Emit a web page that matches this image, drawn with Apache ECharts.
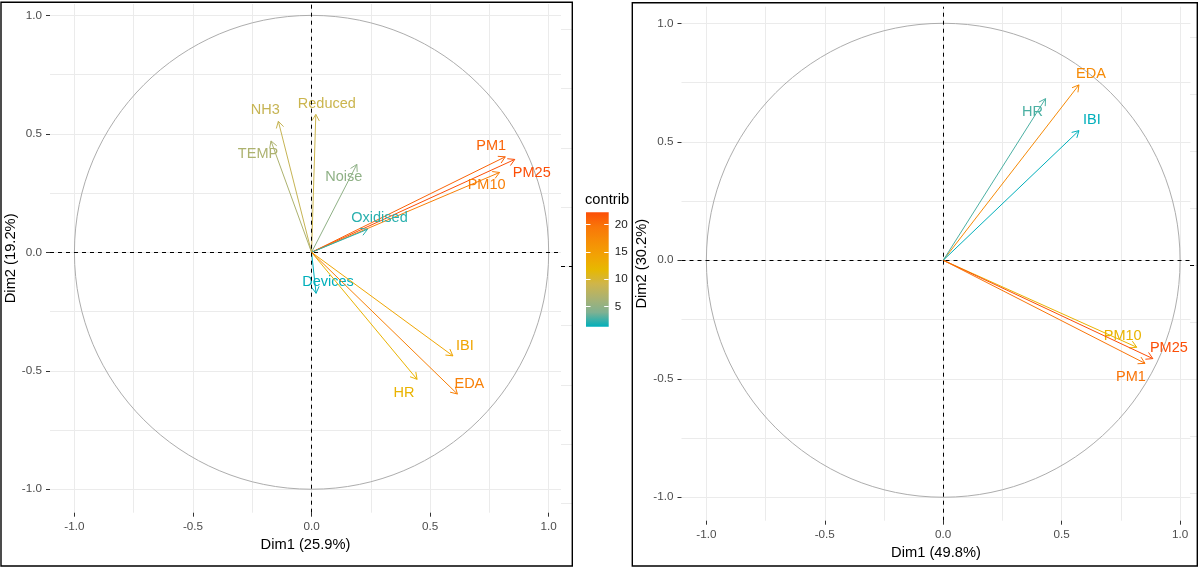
<!DOCTYPE html>
<html>
<head>
<meta charset="utf-8">
<title>PCA variables</title>
<script src="https://cdn.jsdelivr.net/npm/echarts@6.0.0/dist/echarts.min.js"></script>
<style>
  html, body { margin: 0; padding: 0; background: #fff; }
  #chart { width: 1200px; height: 569px; }
</style>
</head>
<body>
<div id="chart"></div>
<script>
// left PCA: 12 variables
var leftVars    = ['PM1', 'PM25', 'PM10', 'Oxidised', 'Noise', 'Reduced', 'NH3', 'TEMP', 'Devices', 'IBI', 'HR', 'EDA'];
var leftDim1    = [0.817, 0.857, 0.793, 0.236, 0.191, 0.018, -0.140, -0.171, 0.019, 0.596, 0.445, 0.615];
var leftDim2    = [0.403, 0.392, 0.337, 0.097, 0.371, 0.582, 0.553, 0.470, -0.173, -0.437, -0.536, -0.598];
var leftContrib = [20.8, 22.2, 18.6, 2.2, 4.9, 8.9, 8.5, 6.7, 1.35, 13.9, 12.4, 18.5];

// right PCA: 6 variables
var rightVars    = ['EDA', 'HR', 'IBI', 'PM10', 'PM25', 'PM1'];
var rightDim1    = [0.573, 0.432, 0.573, 0.817, 0.885, 0.852];
var rightDim2    = [0.740, 0.682, 0.547, -0.367, -0.415, -0.435];
var rightContrib = [18.3, 13.6, 13.1, 16.7, 19.9, 19.1];

var majorTicks  = [-1, -0.5, 0, 0.5, 1];
var gridTicks   = [-1, -0.75, -0.5, -0.25, 0, 0.25, 0.5, 0.75, 1];
var legendTicks = [5, 10, 15, 20];
var circleRadius = 1;

// teal -> yellow -> orange-red (as interpolated by ggplot)
var palette = ['#00AFBB', '#7FB192', '#ABB271', '#CFB54A', '#E7B800', '#F2A204', '#F68D06', '#F97608', '#FC4E07'];

// label nudges in px (repelled labels)
var leftLabelShift  = [[-14, -11], [17, 14], [-13, 13], [12, -11], [-13, 13], [11, -10], [-13, -11], [-13, 13], [12, -11], [12, -10], [-13, 14], [12, -10]];
var rightLabelShift = [[12, -11], [-13, 13], [13, -11], [-14, -11], [16, -11], [-14, 14]];

var font = 'Liberation Sans, Arial, sans-serif';

function rows(d1, d2, c) {
  return d1.map(function (v, i) { return [v, d2[i], c[i]]; });
}

function arrowRender(names, shifts) {
  return function (params, api) {
    var o = api.coord([0, 0]);
    var p = api.coord([api.value(0), api.value(1)]);
    var col = api.visual('color');
    var ang = Math.atan2(p[1] - o[1], p[0] - o[0]);
    var L = 7.5, a = Math.PI / 6;
    var h1 = [p[0] - L * Math.cos(ang - a), p[1] - L * Math.sin(ang - a)];
    var h2 = [p[0] - L * Math.cos(ang + a), p[1] - L * Math.sin(ang + a)];
    var s = shifts[params.dataIndex];
    return {
      type: 'group',
      children: [
        { type: 'line', shape: { x1: o[0], y1: o[1], x2: p[0], y2: p[1] }, style: { stroke: col, lineWidth: 1 } },
        { type: 'polyline', shape: { points: [h1, p, h2] }, style: { stroke: col, lineWidth: 1, fill: null } },
        { type: 'text', x: p[0] + s[0], y: p[1] + s[1],
          style: { text: names[params.dataIndex], fill: col, fontSize: 14.5, fontFamily: font, align: 'center', verticalAlign: 'middle' } }
      ]
    };
  };
}

function circleRender(params, api) {
  var c = api.coord([0, 0]);
  var r = api.size([api.value(2), api.value(2)]);
  return { type: 'ellipse', shape: { cx: c[0], cy: c[1], rx: r[0], ry: r[1] },
           style: { fill: null, stroke: '#ADADAD', lineWidth: 1 } };
}

var zeroLines = {
  silent: true, symbol: 'none', animation: false, label: { show: false },
  lineStyle: { color: '#000', type: [4, 4], width: 1 },
  data: [{ xAxis: 0 }, { yAxis: 0 }]
};

function gridAxis(gi, lim) {
  return {
    type: 'value', gridIndex: gi, min: lim[0], max: lim[1],
    axisLine: { show: false, onZero: false },
    axisTick: { show: false, customValues: gridTicks },
    axisLabel: { show: false },
    splitLine: { show: true, lineStyle: { color: '#EBEBEB', width: 1 } }
  };
}

function scaleAxis(gi, lim, pos, name, gap) {
  return {
    type: 'value', gridIndex: gi, min: lim[0], max: lim[1], position: pos,
    axisLine: { show: false, onZero: false },
    axisTick: { show: true, customValues: majorTicks, length: 4, lineStyle: { color: '#333333', width: 1 } },
    axisLabel: { customValues: majorTicks, margin: 8, color: '#4D4D4D', fontSize: 11.7, fontFamily: font,
                 formatter: function (v) { return v.toFixed(1); } },
    splitLine: { show: false },
    name: name, nameLocation: 'middle', nameGap: gap,
    nameTextStyle: { color: '#000', fontSize: 14.7, fontFamily: font }
  };
}

function stripAxis(gi) {
  return {
    type: 'value', gridIndex: gi, min: -1, max: 1, interval: 0.25,
    axisLine: { show: false, onZero: false }, axisTick: { show: false }, axisLabel: { show: false },
    splitLine: { show: true, lineStyle: { color: '#EBEBEB', width: 1 } }
  };
}

var lxLim = [-1.103, 1.052], lyLim = [-1.099, 1.048];
var rxLim = [-1.105, 1.044], ryLim = [-1.099, 1.07];
var cMin = Math.min.apply(null, leftContrib), cMax = Math.max.apply(null, leftContrib);

var legendFill = new echarts.graphic.LinearGradient(0, 1, 0, 0, palette.map(function (c, i) {
  return { offset: i / (palette.length - 1), color: c };
}));

var hidden = function (gi) {
  return { type: 'value', gridIndex: gi, min: 0, max: 1, show: false, axisLine: { onZero: false }, splitLine: { show: false } };
};

var option = {
  animation: false,
  backgroundColor: '#fff',
  title: { text: 'contrib', left: 585, top: 192, padding: 0,
           textStyle: { fontSize: 14.7, fontWeight: 'normal', color: '#000', fontFamily: font } },
  grid: [
    { left: 50, top: 4, width: 511, height: 508.7 },
    { left: 681.5, top: 6.7, width: 509, height: 514 },
    { left: 586, top: 212.3, width: 22.7, height: 114.4 },
    { left: 561, top: 29.3, width: 11, height: 474 },
    { left: 1190, top: 37.3, width: 7, height: 456 }
  ],
  xAxis: [
    gridAxis(0, lxLim),
    scaleAxis(0, lxLim, 'bottom', 'Dim1 (25.9%)', 23),
    gridAxis(1, rxLim),
    scaleAxis(1, rxLim, 'bottom', 'Dim1 (49.8%)', 23),
    hidden(2),
    hidden(3),
    hidden(4)
  ],
  yAxis: [
    gridAxis(0, lyLim),
    scaleAxis(0, lyLim, 'left', 'Dim2 (19.2%)', 31),
    gridAxis(1, ryLim),
    scaleAxis(1, ryLim, 'left', 'Dim2 (30.2%)', 29),
    {
      type: 'value', gridIndex: 2, min: cMin, max: cMax, position: 'right', z: 10,
      axisLine: { show: false, onZero: false },
      axisTick: { show: true, inside: true, customValues: legendTicks, length: 4.5, lineStyle: { color: '#fff', width: 1 } },
      axisLabel: { customValues: legendTicks, margin: 6, color: '#1A1A1A', fontSize: 11.7, fontFamily: font },
      splitLine: { show: false }
    },
    {
      type: 'value', gridIndex: 2, min: cMin, max: cMax, position: 'left', z: 10,
      axisLine: { show: false, onZero: false },
      axisTick: { show: true, inside: true, customValues: legendTicks, length: 4.5, lineStyle: { color: '#fff', width: 1 } },
      axisLabel: { show: false },
      splitLine: { show: false }
    },
    stripAxis(3),
    stripAxis(4)
  ],
  visualMap: [
    { type: 'continuous', show: false, seriesIndex: 1, dimension: 2, min: cMin, max: cMax, inRange: { color: palette } },
    { type: 'continuous', show: false, seriesIndex: 3, dimension: 2,
      min: Math.min.apply(null, rightContrib), max: Math.max.apply(null, rightContrib), inRange: { color: palette } }
  ],
  series: [
    { type: 'custom', xAxisIndex: 0, yAxisIndex: 0, renderItem: circleRender, data: [[0, 0, circleRadius]], markLine: zeroLines, z: 1 },
    { type: 'custom', xAxisIndex: 0, yAxisIndex: 0, renderItem: arrowRender(leftVars, leftLabelShift),
      data: rows(leftDim1, leftDim2, leftContrib), z: 3 },
    { type: 'custom', xAxisIndex: 2, yAxisIndex: 2, renderItem: circleRender, data: [[0, 0, circleRadius]], markLine: zeroLines, z: 1 },
    { type: 'custom', xAxisIndex: 2, yAxisIndex: 2, renderItem: arrowRender(rightVars, rightLabelShift),
      data: rows(rightDim1, rightDim2, rightContrib), z: 3 },
    { type: 'custom', xAxisIndex: 4, yAxisIndex: 4, data: [[0, cMin, cMax]], z: 2,
      renderItem: function (params, api) {
        var a = api.coord([0, api.value(2)]);
        var b = api.coord([1, api.value(1)]);
        return { type: 'rect', shape: { x: a[0], y: a[1], width: b[0] - a[0], height: b[1] - a[1] }, style: { fill: legendFill } };
      } },
    { type: 'line', xAxisIndex: 5, yAxisIndex: 6, data: [], markLine: { silent: true, symbol: 'none', label: { show: false },
      lineStyle: { color: '#000', type: [4, 4], width: 1 }, data: [{ yAxis: 0 }] } },
    { type: 'line', xAxisIndex: 6, yAxisIndex: 7, data: [], markLine: { silent: true, symbol: 'none', label: { show: false },
      lineStyle: { color: '#000', type: [4, 4], width: 1 }, data: [{ yAxis: 0 }] } }
  ],
  graphic: [
    { type: 'rect', z: 100, shape: { x: 1, y: 2.3, width: 571.3, height: 563.7 }, style: { fill: null, stroke: '#000', lineWidth: 1.4 } },
    { type: 'rect', z: 100, shape: { x: 632.3, y: 2.7, width: 565, height: 563.3 }, style: { fill: null, stroke: '#000', lineWidth: 1.4 } }
  ]
};

var chart = echarts.init(document.getElementById('chart'));
chart.setOption(option);
</script>
</body>
</html>
